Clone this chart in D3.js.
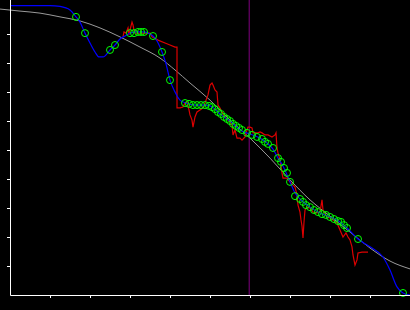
<!DOCTYPE html>
<html lang="en">
<head>
<meta charset="UTF-8">
<title>Fit</title>
<script src="https://d3js.org/d3.v7.min.js"></script>
<style>
  html, body { margin: 0; padding: 0; background: #000; }
  svg { display: block; }
</style>
</head>
<body>
<svg width="410" height="310"></svg>
<script>
// smooth reference curve (grey)
const refX = [-0.25, 0.25, 0.75, 1.25, 1.75, 2.25, 2.75, 3.25, 3.75, 4.125, 4.5, 5.0, 5.5, 6.0, 6.5, 7.0, 7.5, 8.0, 8.5, 9.0, 9.5, 10.0];
const refY = [9.86, 9.79, 9.72, 9.59, 9.45, 9.21, 8.90, 8.55, 8.17, 7.76, 7.31, 6.72, 6.03, 5.41, 4.72, 3.97, 3.28, 2.72, 2.17, 1.62, 1.17, 0.90];

// fitted line (blue)
const fitX = [0, 0.5, 1.0, 1.25, 1.5, 1.65, 1.75, 1.875, 2.0, 2.125, 2.225, 2.325, 2.5, 2.625, 2.75, 2.875, 3.0, 3.175, 3.325, 3.5, 3.575, 3.675, 3.8, 3.9, 4.0, 4.125, 4.25, 4.4, 4.625, 4.875, 5.0, 5.125, 5.25, 5.5, 5.75, 6.0, 6.25, 6.45, 6.575, 6.7, 6.825, 7.0, 7.125, 7.25, 7.5, 7.75, 8.0, 8.25, 8.425, 8.7, 9.0, 9.325, 9.5, 9.675, 9.825, 10.0];
const fitY = [9.98, 9.98, 9.98, 9.95, 9.83, 9.59, 9.41, 9.03, 8.69, 8.38, 8.21, 8.21, 8.45, 8.62, 8.83, 8.93, 9.03, 9.07, 9.07, 9.0, 8.93, 8.76, 8.38, 7.97, 7.41, 7.0, 6.72, 6.62, 6.55, 6.55, 6.52, 6.41, 6.24, 6.0, 5.69, 5.55, 5.41, 5.21, 5.03, 4.72, 4.45, 3.90, 3.52, 3.31, 3.03, 2.83, 2.69, 2.52, 2.31, 1.93, 1.66, 1.31, 0.86, 0.28, 0.07, 0];

// raw signal (red)
const rawX = [2.825, 2.85, 2.9, 2.95, 2.975, 3.0, 3.05, 3.075, 3.1, 3.15, 3.25, 3.375, 3.5, 3.55, 3.7, 3.875, 4.0, 4.125, 4.175, 4.175, 4.25, 4.325, 4.375, 4.425, 4.475, 4.5, 4.55, 4.575, 4.625, 4.675, 4.75, 4.825, 4.875, 4.95, 5.0, 5.05, 5.075, 5.125, 5.175, 5.2, 5.25, 5.3, 5.375, 5.45, 5.5, 5.55, 5.575, 5.625, 5.675, 5.75, 5.8, 5.875, 5.925, 5.95, 6.0, 6.05, 6.075, 6.15, 6.2, 6.25, 6.3, 6.375, 6.45, 6.55, 6.625, 6.65, 6.675, 6.7, 6.75, 6.8, 6.825, 6.925, 6.95, 7.0, 7.125, 7.175, 7.2, 7.25, 7.275, 7.3, 7.325, 7.35, 7.375, 7.425, 7.5, 7.575, 7.675, 7.75, 7.8, 7.825, 7.925, 8.0, 8.075, 8.175, 8.25, 8.325, 8.4, 8.45, 8.5, 8.55, 8.575, 8.625, 8.675, 8.7, 8.8, 8.95];
const rawY = [8.90, 9.07, 9.03, 9.21, 8.97, 9.14, 9.41, 9.31, 9.14, 9.03, 9.03, 9.03, 9.03, 8.90, 8.79, 8.69, 8.62, 8.55, 8.55, 6.45, 6.45, 6.48, 6.62, 6.66, 6.38, 6.21, 6.03, 5.79, 6.14, 6.31, 6.38, 6.45, 6.62, 6.90, 7.24, 7.31, 7.24, 7.07, 7.0, 6.55, 6.45, 6.31, 6.14, 6.03, 5.97, 5.86, 5.52, 5.69, 5.41, 5.41, 5.34, 5.45, 5.69, 5.79, 5.79, 5.76, 5.59, 5.59, 5.59, 5.62, 5.59, 5.52, 5.52, 5.45, 5.52, 5.59, 5.07, 4.90, 4.66, 4.21, 4.03, 4.03, 3.97, 3.90, 3.72, 3.45, 3.10, 2.86, 2.59, 2.38, 1.97, 2.52, 2.93, 3.03, 3.0, 2.86, 2.83, 2.86, 3.28, 2.93, 2.69, 2.66, 2.59, 2.48, 2.24, 2.0, 2.14, 2.0, 1.90, 1.66, 1.38, 1.03, 1.21, 1.45, 1.48, 1.48];

// sample points (green circles)
const ptX = [1.65, 1.875, 2.5, 2.625, 3.0, 3.1, 3.2, 3.275, 3.35, 3.575, 3.8, 4.0, 4.375, 4.475, 4.575, 4.675, 4.775, 4.875, 4.975, 5.05, 5.125, 5.2, 5.275, 5.35, 5.425, 5.5, 5.575, 5.65, 5.725, 5.8, 5.925, 6.05, 6.175, 6.3, 6.375, 6.45, 6.575, 6.7, 6.775, 6.85, 6.925, 7.0, 7.125, 7.25, 7.325, 7.4, 7.5, 7.6, 7.7, 7.8, 7.9, 8.0, 8.1, 8.2, 8.275, 8.35, 8.425, 8.7, 9.825];
const ptY = [9.59, 9.03, 8.45, 8.62, 9.03, 9.03, 9.07, 9.07, 9.07, 8.93, 8.38, 7.41, 6.62, 6.59, 6.55, 6.55, 6.55, 6.55, 6.52, 6.48, 6.41, 6.31, 6.24, 6.14, 6.07, 6.0, 5.90, 5.83, 5.76, 5.69, 5.59, 5.52, 5.45, 5.38, 5.28, 5.21, 5.07, 4.72, 4.59, 4.38, 4.21, 3.90, 3.41, 3.31, 3.21, 3.10, 3.03, 2.93, 2.86, 2.79, 2.76, 2.69, 2.62, 2.55, 2.52, 2.41, 2.31, 1.93, 0.07];

const markerX = 5.98;
const tickVals = [1, 2, 3, 4, 5, 6, 7, 8, 9];

const svg = d3.select("svg");
const x = d3.scaleLinear().domain([0, 10]).range([10, 410]);
const y = d3.scaleLinear().domain([0, 10]).range([295, 5]);

const zip = (xs, ys) => xs.map((v, i) => [v, ys[i]]);
const straight = d3.line().x(d => x(d[0])).y(d => y(d[1]));
const smooth = d3.line().x(d => x(d[0])).y(d => y(d[1])).curve(d3.curveMonotoneX);

// vertical marker
svg.append("line")
    .attr("x1", x(markerX)).attr("x2", x(markerX))
    .attr("y1", 0).attr("y2", y(0))
    .attr("stroke", "#800080").attr("stroke-width", 1);

svg.append("path")
    .datum(zip(refX, refY))
    .attr("fill", "none")
    .attr("stroke", "#9a9a9a")
    .attr("stroke-width", 1)
    .attr("d", smooth);

svg.append("path")
    .datum(zip(rawX, rawY))
    .attr("fill", "none")
    .attr("stroke", "#dd0000")
    .attr("stroke-width", 1.2)
    .attr("d", straight);

svg.append("path")
    .datum(zip(fitX, fitY))
    .attr("fill", "none")
    .attr("stroke", "#0000ff")
    .attr("stroke-width", 1.2)
    .attr("d", smooth);

svg.selectAll(".pt")
    .data(zip(ptX, ptY))
    .enter().append("circle")
    .attr("class", "pt")
    .attr("cx", d => x(d[0]))
    .attr("cy", d => y(d[1]))
    .attr("r", 3.5)
    .attr("fill", "none")
    .attr("stroke", "#00ff00")
    .attr("stroke-width", 1);

// axes
svg.append("g")
    .attr("transform", `translate(0,${y(0)})`)
    .call(d3.axisBottom(x).tickValues(tickVals).tickSize(3).tickSizeOuter(0).tickFormat(""));
const yAxis = svg.append("g")
    .attr("transform", `translate(${x(0)},0)`)
    .call(d3.axisLeft(y).tickValues(tickVals).tickSize(3).tickSizeOuter(0).tickFormat(""));
yAxis.select(".domain").attr("d", `M0.5,0V${y(0) + 0.5}`);

svg.selectAll(".domain, .tick line").attr("stroke", "#fff");
</script>
</body>
</html>
